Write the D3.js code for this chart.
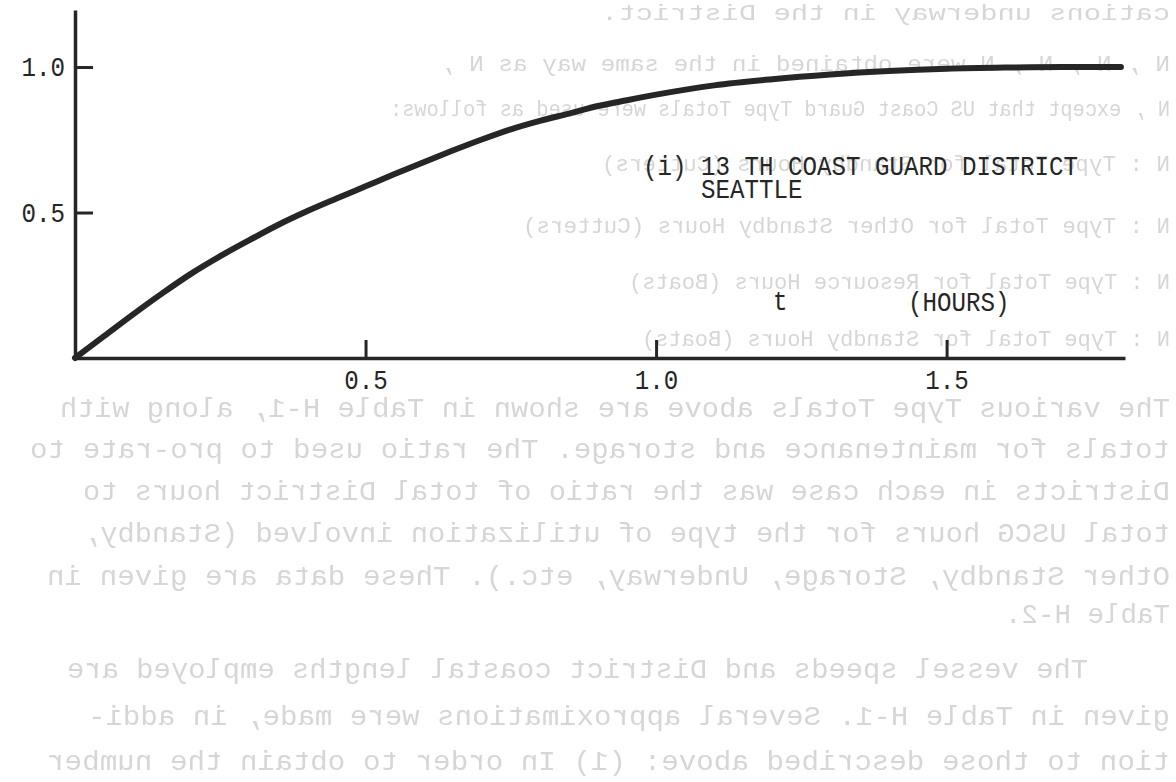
<!DOCTYPE html>
<html>
<head>
<meta charset="utf-8">
<script src="https://cdn.jsdelivr.net/npm/d3@7"></script>
<style>
  html, body { margin: 0; padding: 0; background: #ffffff; }
  svg { display: block; }
</style>
</head>
<body>
<svg id="chart" width="1176" height="782"></svg>
<script>
// Fraction of the district reached within t hours (13th Coast Guard District, Seattle)
const hours    = [0, 0.05, 0.10, 0.15, 0.20, 0.25, 0.30, 0.35, 0.40, 0.45, 0.50, 0.55, 0.60, 0.65, 0.70, 0.75, 0.80, 0.85, 0.90, 0.95, 1.00, 1.10, 1.20, 1.30, 1.40, 1.50, 1.60, 1.70, 1.80];
const fraction = [0, 0.075, 0.150, 0.222, 0.290, 0.350, 0.405, 0.458, 0.505, 0.548, 0.590, 0.632, 0.673, 0.713, 0.751, 0.786, 0.815, 0.840, 0.866, 0.886, 0.905, 0.937, 0.958, 0.974, 0.986, 0.994, 0.998, 1.0, 1.0];

const xTicks = [0.5, 1.0, 1.5];
const yTicks = [0.5, 1.0];

const curveTitle = ["(i) 13 TH COAST GUARD DISTRICT", "SEATTLE"];
const xAxisLabel = ["t", "(HOURS)"];

// Typed text from the reverse side of the sheet, seen through the paper
const reverseText = [
  "cations underway in the District.",
  "N  , N  , N  , N  were obtained in the same way as N  ,",
  "N  , except that US Coast Guard Type Totals were used as follows:",
  "N  : Type Total for Standby Hours (Cutters)",
  "N  : Type Total for Other Standby Hours (Cutters)",
  "N  : Type Total for Resource Hours (Boats)",
  "N  : Type Total for Standby Hours (Boats)",
  "The various Type Totals above are shown in Table H-1, along with",
  "totals for maintenance and storage.  The ratio used to pro-rate to",
  "Districts in each case was the ratio of total District hours to",
  "total USCG hours for the type of utilization involved (Standby,",
  "Other Standby, Storage, Underway, etc.).  These data are given in",
  "Table H-2.",
  "The vessel speeds and District coastal lengths employed are",
  "given in Table H-1.  Several approximations were made, in addi-",
  "tion to those described above: (1) In order to obtain the number"
];
// [left, right, middle, size] of each show-through line on the page
const reverseLayout = [
  [601, 1170, 14, 22], [440, 1170, 65, 22], [390, 1170, 110, 22], [602, 1170, 165, 22],
  [523, 1170, 227, 22], [629, 1170, 283, 22], [642, 1170, 340, 22],
  [60, 1170, 409, 27], [30, 1170, 450, 27], [83, 1170, 492, 27], [83, 1170, 534, 27],
  [47, 1170, 577, 27], [1005, 1170, 615, 27],
  [67, 1088, 670, 27], [88, 1170, 717, 27], [47, 1170, 762, 27]
];

const W = 1176, H = 782;
const svg = d3.select("#chart");
const ink = "#262626";
const mono = "'Liberation Mono', 'DejaVu Sans Mono', monospace";

// faint mirrored show-through
const defs = svg.append("defs");
defs.append("filter").attr("id", "soft")
  .append("feGaussianBlur").attr("stdDeviation", 0.6);

const back = svg.append("g")
  .attr("transform", `translate(${W},0) scale(-1,1)`)
  .attr("filter", "url(#soft)");
back.selectAll("text")
  .data(reverseText)
  .join("text")
  .attr("x", (d, i) => W - reverseLayout[i][1])
  .attr("y", (d, i) => reverseLayout[i][2] + reverseLayout[i][3] * 0.29)
  .attr("textLength", (d, i) => reverseLayout[i][1] - reverseLayout[i][0])
  .attr("lengthAdjust", "spacingAndGlyphs")
  .attr("font-family", mono)
  .attr("font-size", (d, i) => reverseLayout[i][3])
  .attr("fill", "#d6d6d6")
  .text(d => d);

// scales
const x = d3.scaleLinear().domain([0, 1.807]).range([75, 1125]);
const y = d3.scaleLinear().domain([0, 1.196]).range([358, 10]);

const charW = 14.5;

// y axis, ticks pointing into the plot
const yAxis = svg.append("g")
  .attr("transform", `translate(${x(0)},0)`)
  .call(d3.axisLeft(y).tickValues(yTicks).tickFormat(d3.format(".1f"))
    .tickSizeInner(-18).tickSizeOuter(0).tickPadding(10));

// x axis, ticks pointing up
const xAxis = svg.append("g")
  .attr("transform", `translate(0,${y(0)})`)
  .call(d3.axisBottom(x).tickValues(xTicks).tickFormat(d3.format(".1f"))
    .tickSizeInner(-18).tickSizeOuter(0).tickPadding(10));

[xAxis, yAxis].forEach(g => {
  g.select(".domain").attr("stroke", ink).attr("stroke-width", 3.5);
  g.selectAll(".tick line").attr("stroke", ink).attr("stroke-width", 3);
  g.selectAll(".tick text")
    .attr("font-family", mono)
    .attr("font-size", 27)
    .attr("fill", ink)
    .attr("textLength", d => d3.format(".1f")(d).length * charW)
    .attr("lengthAdjust", "spacingAndGlyphs");
});
yAxis.selectAll(".tick text").attr("dy", "0.33em").attr("x", -10);
xAxis.selectAll(".tick text").attr("dy", null).attr("y", 31);

// curve
const pts = hours.map((t, i) => [t, fraction[i]]);
svg.append("path")
  .datum(pts)
  .attr("fill", "none")
  .attr("stroke", ink)
  .attr("stroke-width", 6)
  .attr("stroke-linecap", "round")
  .attr("stroke-linejoin", "round")
  .attr("d", d3.line().x(d => x(d[0])).y(d => y(d[1])).curve(d3.curveMonotoneX));

// curve title
const textStyle = sel => sel
  .attr("font-family", mono)
  .attr("font-size", 27)
  .attr("fill", ink)
  .attr("lengthAdjust", "spacingAndGlyphs")
  .attr("textLength", d => d.length * charW);

svg.append("text").datum(curveTitle[0])
  .attr("x", 643).attr("y", 175).call(textStyle).text(d => d);
svg.append("text").datum(curveTitle[1])
  .attr("x", 643 + 4 * charW).attr("y", 198).call(textStyle).text(d => d);

// x axis title
svg.append("text").datum(xAxisLabel[0])
  .attr("x", 773).attr("y", 310).call(textStyle).text(d => d);
svg.append("text").datum(xAxisLabel[1])
  .attr("x", 908).attr("y", 311).call(textStyle).text(d => d);
</script>
</body>
</html>
